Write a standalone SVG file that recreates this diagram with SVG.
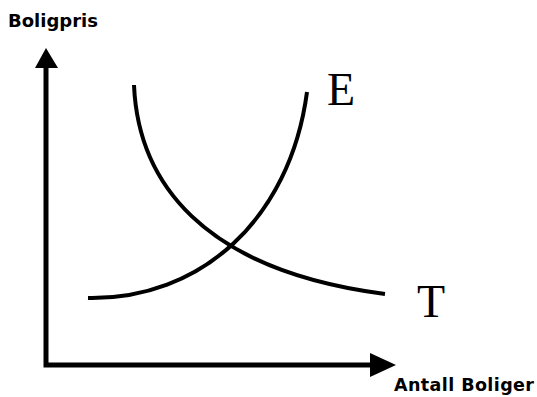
<svg xmlns="http://www.w3.org/2000/svg" width="537" height="397" viewBox="0 0 537 397">
<style>
.axis{stroke:#000;stroke-width:5;fill:none}
.curve{stroke:#000;stroke-width:4;fill:none;stroke-linecap:butt}
.lbl{font-family:"DejaVu Sans",Verdana,sans-serif;font-weight:bold;font-size:18px;fill:#000}
.cl{font-family:"Liberation Serif","Times New Roman",serif;font-size:46px;fill:#000}
</style>
<rect width="537" height="397" fill="#fff"/>
<g id="connectors">
<path class="axis" d="M46,67 L46,365 L371,365"/>
<polygon points="46,48 35,68 58,68" fill="#000"/>
<polygon points="396,365 370,353 370,377" fill="#000"/>
</g>
<g id="curve-T">
<path class="curve" d="M134,85 C138,180 200,270 385,294"/>
<text class="cl" x="417" y="317">T</text>
</g>
<g id="curve-E">
<path class="curve" d="M88,298 C200,300 290,220 307,92"/>
<text class="cl" x="327" y="105">E</text>
</g>
<g id="label-y">
<text class="lbl" x="8" y="27">Boligpris</text>
</g>
<g id="label-x">
<text class="lbl" x="394" y="391" style="font-size:17.5px" textLength="140">Antall Boliger</text>
</g>
</svg>
